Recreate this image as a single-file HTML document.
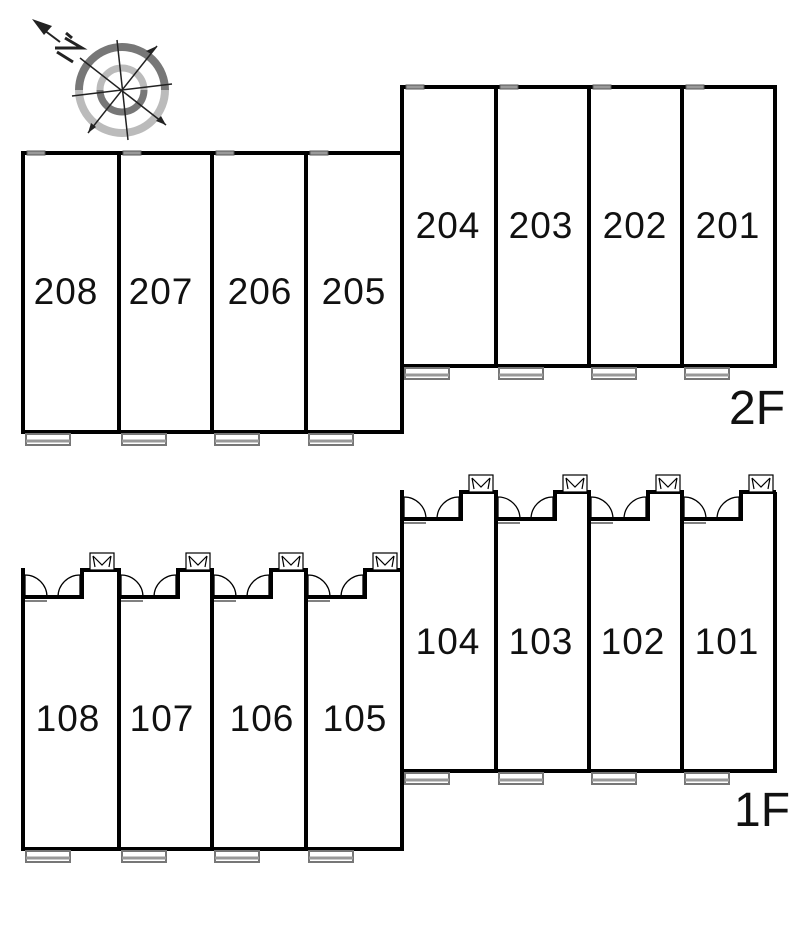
<!DOCTYPE html>
<html><head><meta charset="utf-8"><style>html,body{margin:0;padding:0;background:#fff}svg{display:block}text{font-family:"Liberation Sans",sans-serif;fill:#111}</style></head><body>
<svg width="800" height="940" viewBox="0 0 800 940" xmlns="http://www.w3.org/2000/svg">
<defs>
<g id="bal"><rect x="3" y="2" width="44" height="11" fill="#fff" stroke="#777" stroke-width="2"/><line x1="3" y1="9" x2="47" y2="9" stroke="#999" stroke-width="3"/></g>
<g id="win"><rect x="4" y="-2" width="18" height="4" fill="#999" stroke="#555" stroke-width="1"/></g>
<g id="ent" fill="none" stroke="#000">
<path d="M0 27 H59 V0 H94" stroke-width="4"/>
<line x1="2" y1="28" x2="24" y2="28" stroke-width="1"/><line x1="2" y1="31" x2="24" y2="31" stroke-width="1"/>
<path d="M2 5 A22 22 0 0 1 24 27" stroke-width="1.3"/><line x1="2" y1="5" x2="2" y2="27" stroke-width="1.3"/>
<line x1="35" y1="28" x2="57" y2="28" stroke-width="1"/>
<path d="M57 5 A22 22 0 0 0 35 27" stroke-width="1.3"/><line x1="57" y1="5" x2="57" y2="27" stroke-width="1.3"/>
<rect x="67" y="-17" width="24" height="17" fill="#fff" stroke-width="1.2"/>
<path d="M70 -14 L79 -5 L88 -14 M70 -14 L72 -3 M88 -14 L86 -3" stroke-width="1.2"/>
</g>
</defs>

<g>
<path d="M79 90 A43 43 0 0 1 165 90" fill="none" stroke="#777" stroke-width="8"/>
<path d="M165 90 A43 43 0 0 1 79 90" fill="none" stroke="#bbb" stroke-width="8"/>
<path d="M100 90 A22 22 0 0 1 144 90" fill="none" stroke="#bbb" stroke-width="7"/>
<path d="M144 90 A22 22 0 0 1 100 90" fill="none" stroke="#777" stroke-width="7"/>
<g stroke="#222" stroke-width="1.5">
<line x1="80" y1="58" x2="166" y2="125"/><line x1="88" y1="133" x2="157" y2="46"/>
<line x1="72" y1="96" x2="172" y2="84"/><line x1="117" y1="40" x2="128" y2="140"/>
</g>
<polygon points="166,125 156,121 161,116" fill="#222"/>
<polygon points="157,46 151,54 146,51" fill="#222"/>
<polygon points="88,133 91,123 96,127" fill="#222"/>
<polygon points="32,19 52,26 44,35" fill="#222"/>
<line x1="44" y1="30" x2="60" y2="42" stroke="#222" stroke-width="2"/>
<path d="M55 48 L82 48 L65 38 M66 33 L72 38 M57 52 L73 62" fill="none" stroke="#222" stroke-width="3"/>
</g>

<g fill="none" stroke="#000" stroke-width="4">
<rect x="23" y="153" width="379" height="279"/>
<line x1="119" y1="153" x2="119" y2="432"/><line x1="212" y1="153" x2="212" y2="432"/><line x1="306" y1="153" x2="306" y2="432"/>
<rect x="402" y="87" width="373" height="279"/>
<line x1="496" y1="87" x2="496" y2="366"/><line x1="589" y1="87" x2="589" y2="366"/><line x1="682" y1="87" x2="682" y2="366"/>
</g>
<use href="#win" x="23" y="153"/><use href="#win" x="119" y="153"/><use href="#win" x="212" y="153"/><use href="#win" x="306" y="153"/>
<use href="#win" x="402" y="87"/><use href="#win" x="496" y="87"/><use href="#win" x="589" y="87"/><use href="#win" x="682" y="87"/>
<use href="#bal" x="23" y="432"/><use href="#bal" x="119" y="432"/><use href="#bal" x="212" y="432"/><use href="#bal" x="306" y="432"/>
<use href="#bal" x="402" y="366"/><use href="#bal" x="496" y="366"/><use href="#bal" x="589" y="366"/><use href="#bal" x="682" y="366"/>
<g font-size="37" text-anchor="middle" letter-spacing="1">
<text x="66" y="304">208</text><text x="161" y="304">207</text><text x="260" y="304">206</text><text x="354" y="304">205</text>
<text x="448" y="238">204</text><text x="541" y="238">203</text><text x="635" y="238">202</text><text x="728" y="238">201</text>
</g>
<text x="729" y="424" font-size="48">2F</text>

<g fill="none" stroke="#000" stroke-width="4">
<path d="M23 568 V849 H402 V771 H775 V492"/>
<line x1="119" y1="568" x2="119" y2="849"/><line x1="212" y1="568" x2="212" y2="849"/><line x1="306" y1="568" x2="306" y2="849"/>
<line x1="402" y1="490" x2="402" y2="771"/>
<line x1="496" y1="490" x2="496" y2="771"/><line x1="589" y1="490" x2="589" y2="771"/><line x1="682" y1="490" x2="682" y2="771"/>
</g>
<use href="#ent" x="23" y="570"/><use href="#ent" x="119" y="570"/><use href="#ent" x="212" y="570"/><use href="#ent" x="306" y="570"/>
<use href="#ent" x="402" y="492"/><use href="#ent" x="496" y="492"/><use href="#ent" x="589" y="492"/><use href="#ent" x="682" y="492"/>
<use href="#bal" x="23" y="849"/><use href="#bal" x="119" y="849"/><use href="#bal" x="212" y="849"/><use href="#bal" x="306" y="849"/>
<use href="#bal" x="402" y="771"/><use href="#bal" x="496" y="771"/><use href="#bal" x="589" y="771"/><use href="#bal" x="682" y="771"/>
<g font-size="37" text-anchor="middle" letter-spacing="1">
<text x="68" y="731">108</text><text x="162" y="731">107</text><text x="262" y="731">106</text><text x="355" y="731">105</text>
<text x="448" y="654">104</text><text x="541" y="654">103</text><text x="633" y="654">102</text><text x="727" y="654">101</text>
</g>
<text x="734" y="826" font-size="48">1F</text>
</svg>
</body></html>
